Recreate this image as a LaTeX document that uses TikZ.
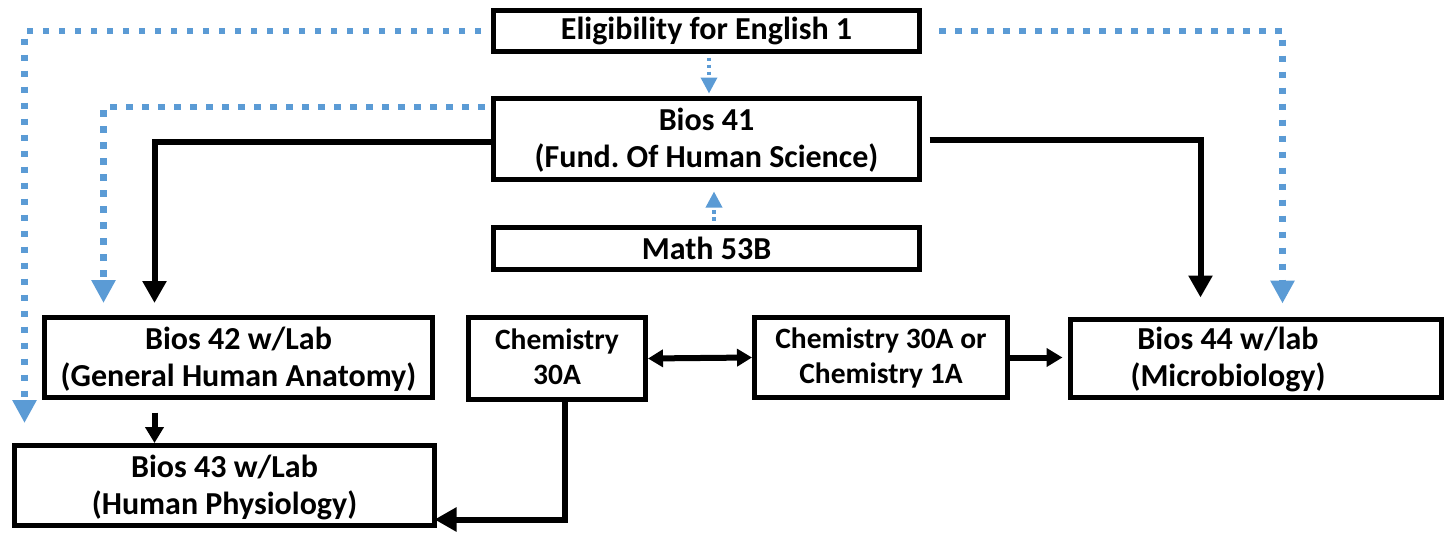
\documentclass[tikz,border=0pt]{standalone}
\usepackage{fontspec}
\setmainfont{Carlito}
\usetikzlibrary{arrows.meta,calc}
\definecolor{dotblue}{HTML}{5B9BD5}
\frenchspacing
\newcommand\myTopS{\rule{0pt}{30pt}}
\newcommand\myBotS{\rule[-10pt]{0pt}{10pt}}
\newcommand\myTopC{\rule{0pt}{28pt}}
\newcommand\myBotC{\rule[-12pt]{0pt}{12pt}}
\begin{document}
\begin{tikzpicture}[x=1pt,y=-1pt,
  box/.style={draw, line width=5pt, rectangle, inner sep=0pt, align=center,
    font=\fontsize{32}{37}\selectfont\bfseries},
  chembox/.style={box, font=\fontsize{29.5}{35}\selectfont\bfseries},
  plaintext/.style={inner sep=0pt, align=center, font=\fontsize{32}{37}\selectfont\bfseries},
  blk/.style={draw=black, line width=6pt},
  bighead/.style={-{Triangle[width=23pt,length=22pt]}},
  midhead/.style={-{Triangle[width=18pt,length=16pt]}},
  bigdot/.style={draw=dotblue, line width=6.5pt, dash pattern=on 6.5pt off 9.5pt,
    -{Triangle[width=23pt,length=23pt]}},
  smalldot/.style={draw=dotblue, line width=3.5pt, dash pattern=on 3.5pt off 3.5pt,
    -{Triangle[width=16pt,length=16pt]}}
]
\useasboundingbox (0,0) rectangle (1452,533);

% boxes
\node[box, minimum width=426pt, minimum height=41pt] (eng) at (706.5,31) {Eligibility for English 1};
\node[box, minimum width=426pt, minimum height=81pt] (b41) at (706.5,139) {\myTopS Bios 41\\(Fund. Of Human Science)\myBotS};
\node[box, minimum width=426pt, minimum height=42pt] (math) at (706.5,248.5) {Math 53B};
\node[box, minimum width=388pt, minimum height=80pt] (b42) at (238.5,357.5) {\myTopS Bios 42 w/Lab\\(General Human Anatomy)\myBotS};
\node[box, minimum width=420pt, minimum height=80pt] (b43) at (224.5,485.5) {\myTopS Bios 43 w/Lab\\(Human Physiology)\myBotS};
\node[chembox, minimum width=177pt, minimum height=82pt] (c30) at (557,358.5) {\myTopC Chemistry\\30A\myBotC};
\node[chembox, minimum width=253pt, minimum height=80pt] (cor) at (881,357.5) {\myTopC Chemistry 30A or\\Chemistry 1A\myBotC};
\node[box, minimum width=371pt, minimum height=78pt] (b44) at (1256,358.5) {};
\node[plaintext] (b44t) at (1228,358) {\myTopS Bios 44 w/lab\\(Microbiology)\myBotS};

% blue dotted connectors
\draw[smalldot, shorten <=3.5pt, shorten >=2.5pt] ($(eng.south)+(2.5,0)$) -- ($(b41.north)+(2.5,0)$);
\draw[smalldot, shorten <=4.5pt, shorten >=9.5pt] ($(math.north)+(7.5,0)$) -- ($(b41.south)+(7.5,0)$);
\draw[bigdot, shorten <=10pt, shorten >=20pt] (eng.west) -| ($(b43.north west)+(12.5,0)$);
\draw[bigdot, shorten <=6.5pt, shorten >=12pt] ($(b41.west)+(0,-32)$) -| ($(b42.north west)+(61.5,0)$);
\draw[bigdot, shorten <=17pt, shorten >=13.5pt] (eng.east) -| ($(b44.north west)+(214.5,0)$);

% black connectors
\draw[blk, bighead, shorten >=12pt] ($(b41.west)+(0,3)$) -| ($(b42.north west)+(112.5,0)$);
\draw[blk, bighead, shorten <=7.5pt, shorten >=19.5pt] ($(b41.east)+(0,1)$) -| ($(b44.north west)+(132.5,0)$);
\draw[blk, shorten <=5pt] ($(math.south)+(-3.5,0)$) -- ($(math.south)+(-3.5,0)$ |- c30.east);
\draw[blk, {Triangle[width=17pt,length=15pt]}-{Triangle[width=17pt,length=15pt]}] (c30.east) -- (cor.west);
\draw[blk, midhead, shorten >=5.5pt] (cor.east) -- (cor.east -| b44.west);
\draw[blk, bighead, shorten >=-2.5pt] ($(c30.south)+(8,-2)$) |- ($(b43.south east)+(0,-8.5)$);
\draw[blk, midhead, shorten <=12.5pt] ($(b42.south west)+(112.5,0)$) -- ($(b43.north west)+(142.5,0)$);
\end{tikzpicture}
\end{document}
